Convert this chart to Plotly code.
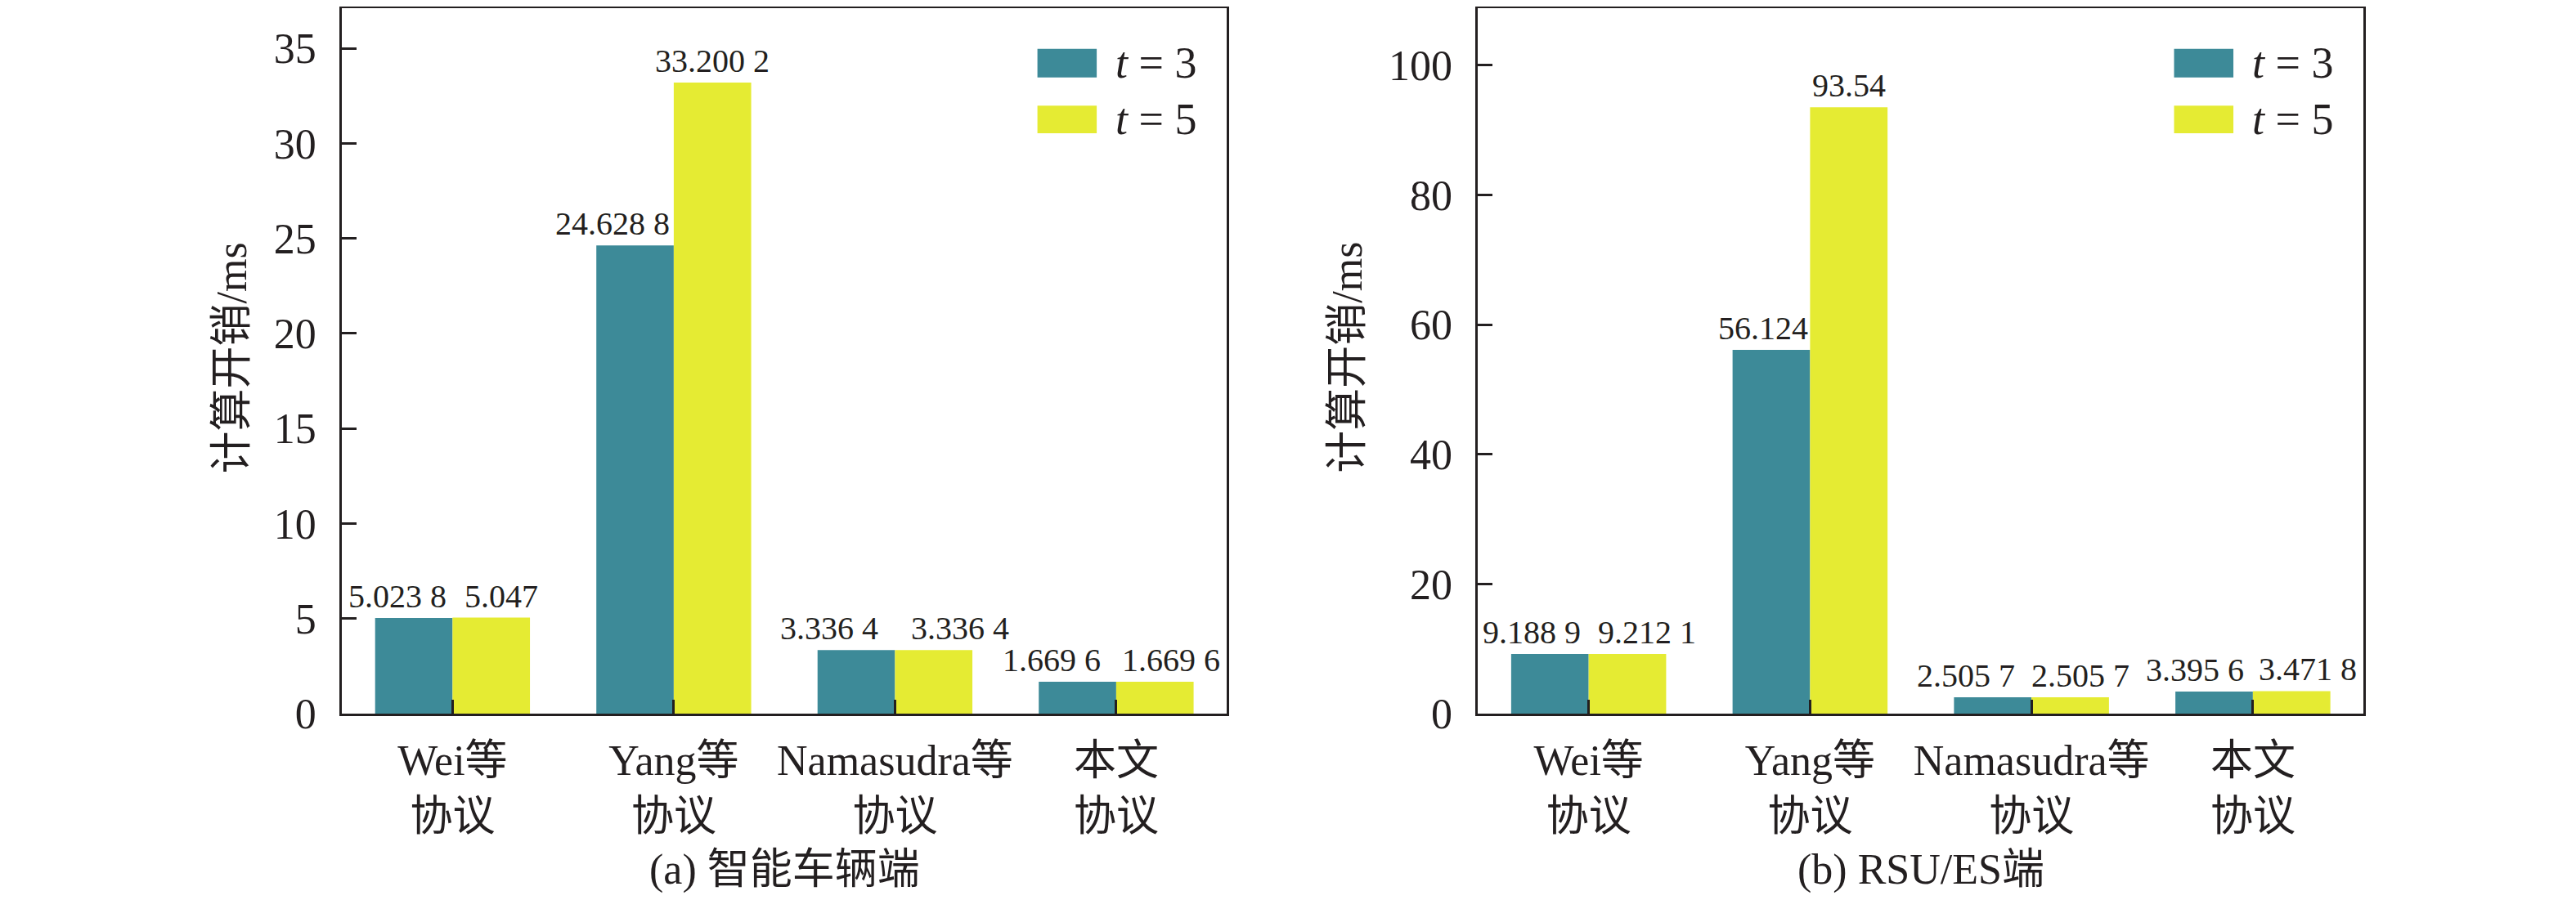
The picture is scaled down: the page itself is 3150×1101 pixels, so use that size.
import plotly.graph_objects as go

# categories and values
protocols = ["Wei等<br>协议", "Yang等<br>协议", "Namasudra等<br>协议", "本文<br>协议"]
vehicle_t3 = [5.0238, 24.6288, 3.3364, 1.6696]
vehicle_t5 = [5.047, 33.2002, 3.3364, 1.6696]
rsu_t3 = [9.1889, 56.124, 2.5057, 3.3956]
rsu_t5 = [9.2121, 93.54, 2.5057, 3.4718]
series_names = ["<i>t</i> = 3", "<i>t</i> = 5"]
captions = ["(a) 智能车辆端", "(b) RSU/ES端"]

# style
colors = ["#3d8a98", "#e5eb33"]
ink = "#231f20"
serif = "Liberation Serif, Noto Sans CJK SC"
# horizontal nudges (px) of the value labels, so neighbours don't collide
dx_vehicle = [[-20, -28, -33, -32], [12, 0, 32, 20]]
dx_rsu = [[-22, -10, -33, -24], [24, 0, 12, 20]]


def fmt(v):
    s = f"{v:.4f}".rstrip("0").rstrip(".")
    ip, _, dp = s.partition(".")
    if len(dp) == 4:
        dp = dp[:3] + " " + dp[3]
    return ip + ("." + dp if dp else "")


fig = go.Figure()

panels = [
    dict(xa="x", ya="y", t3=vehicle_t3, t5=vehicle_t5, dx=dx_vehicle, cap=captions[0]),
    dict(xa="x2", ya="y2", t3=rsu_t3, t5=rsu_t5, dx=dx_rsu, cap=captions[1]),
]

bw = 0.35  # each bar's width in category units (bargap 0.3)
for p in panels:
    for k, vals in enumerate([p["t3"], p["t5"]]):
        fig.add_trace(go.Bar(x=protocols, y=vals, name=series_names[k],
                             marker=dict(color=colors[k], line=dict(width=0)),
                             xaxis=p["xa"], yaxis=p["ya"], showlegend=False))
        off = -bw / 2 if k == 0 else bw / 2
        for i, v in enumerate(vals):
            fig.add_annotation(x=i + off, y=v, xref=p["xa"], yref=p["ya"],
                               text=fmt(v), showarrow=False,
                               xanchor="center", yanchor="bottom",
                               xshift=p["dx"][k][i], yshift=2,
                               font=dict(family=serif, size=40, color=ink))
    dom_x = p["xa"] + " domain"
    dom_y = p["ya"] + " domain"
    # legend drawn inside each panel
    for k in range(2):
        y_top = [0.9425, 0.862][k]
        y_bot = [0.902, 0.823][k]
        fig.add_shape(type="rect", xref=dom_x, yref=dom_y, x0=0.786, x1=0.853,
                      y0=y_bot, y1=y_top, fillcolor=colors[k], line=dict(width=0))
        fig.add_annotation(xref=dom_x, yref=dom_y, x=0.872, y=(y_top + y_bot) / 2,
                           text=series_names[k], showarrow=False,
                           xanchor="left", yanchor="middle",
                           font=dict(family=serif, size=54, color=ink))
    fig.add_annotation(xref=dom_x, yref="paper", x=0.5, y=0.041, text=p["cap"],
                       showarrow=False, xanchor="center", yanchor="middle",
                       font=dict(family=serif, size=52, color=ink))

# y-axis titles
for xp in [0.0873, 0.5204]:
    fig.add_annotation(xref="paper", yref="paper", x=xp, y=0.61, text="计算开销/ms",
                       textangle=-90, showarrow=False,
                       xanchor="center", yanchor="middle",
                       font=dict(family=serif, size=52, color=ink))

axis_common = dict(showline=True, linewidth=3, linecolor=ink, mirror=True,
                   ticks="inside", tickwidth=3, tickcolor=ink,
                   showgrid=False, zeroline=False, automargin=False,
                   tickfont=dict(family=serif, size=52, color=ink))

fig.update_layout(
    xaxis=dict(domain=[0.1302, 0.4737], range=[-0.5, 3.5], ticklen=17,
               anchor="y", ticklabelstandoff=10, **axis_common),
    yaxis=dict(domain=[0.2144, 0.998], range=[0, 37.1], dtick=5, ticklen=18,
               anchor="x", ticklabelstandoff=18, **axis_common),
    xaxis2=dict(domain=[0.5712, 0.9150], range=[-0.5, 3.5], ticklen=17,
                anchor="y2", ticklabelstandoff=10, **axis_common),
    yaxis2=dict(domain=[0.2144, 0.998], range=[0, 108.8], dtick=20, ticklen=18,
                anchor="x2", ticklabelstandoff=18, **axis_common),
    barmode="group", bargap=0.3, bargroupgap=0,
    width=3150, height=1101,
    margin=dict(l=0, r=0, t=0, b=0),
    plot_bgcolor="white", paper_bgcolor="white",
    font=dict(family=serif, color=ink),
)

fig.write_html("out.html")
